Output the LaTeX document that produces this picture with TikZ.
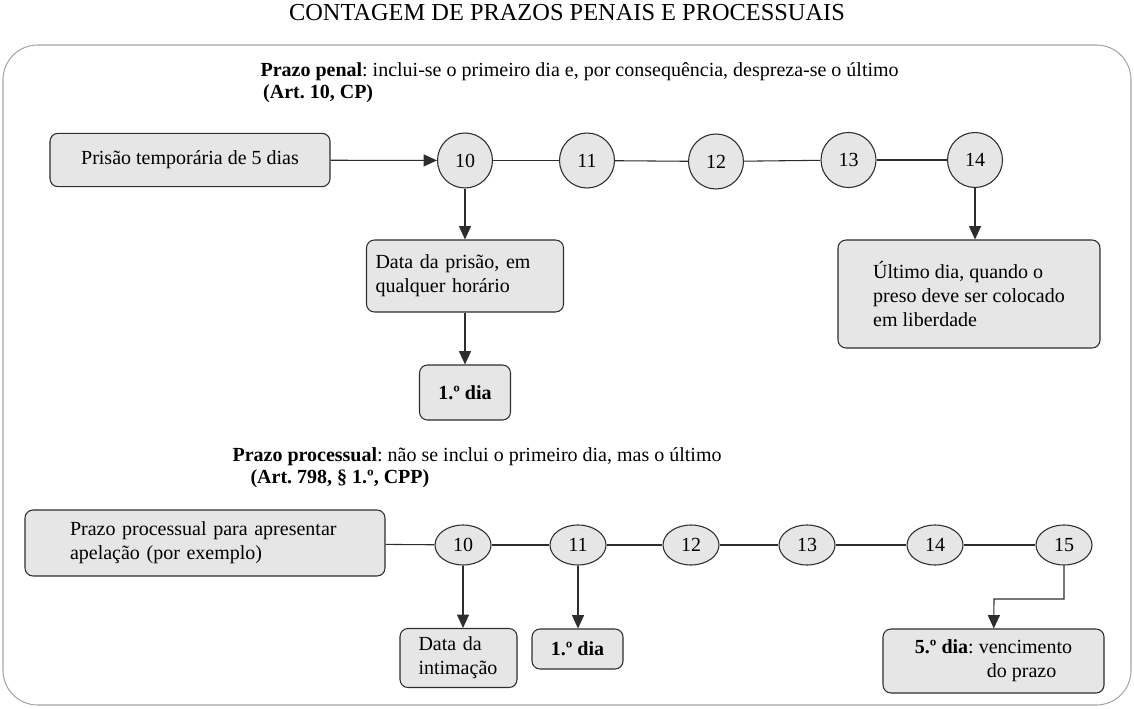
\documentclass[tikz,border=0pt]{standalone}
\usepackage{fontspec}
\setmainfont{Liberation Serif}
\usetikzlibrary{arrows.meta,shapes.geometric}
\definecolor{f}{RGB}{230,230,230}
\definecolor{l}{RGB}{45,45,45}
\definecolor{m}{RGB}{165,165,165}
\frenchspacing

\begin{document}
\begin{tikzpicture}[>={Triangle[length=10pt,width=9pt]},x=.75pt,y=-.75pt,line width=.8pt,
every node/.style={font=\fontsize{15}{18}\selectfont},
cx/.style={draw=l,fill=f,rounded corners=6pt},
ci/.style={circle,draw=l,fill=f,minimum size=41.25pt,inner sep=0pt},
el/.style={ellipse,draw=l,fill=f,minimum width=42pt,minimum height=30pt,inner sep=0pt},
tx/.style={anchor=north west,inner sep=0pt,align=left,font=\fontsize{15}{16.5}\selectfont}]
\useasboundingbox (0,0) rectangle (1134,709);
\node (tit) at (567,13) {\fontsize{18.3}{20}\selectfont CONTAGEM DE PRAZOS PENAIS E PROCESSUAIS};
\draw[m] (3,45) [rounded corners=26pt] rectangle (1131,705);
% prazo penal
\node[tx] (hp) at (260,62) {\textbf{Prazo penal}: inclui-se o primeiro dia e, por consequência, despreza-se o último\\\hspace*{2pt}\textbf{(Art. 10, CP)}};
\node[cx,minimum width=210pt,minimum height=40pt] (pt) at (190,160) {Prisão temporária de 5 dias};
\node[ci] (c10) at (465,160.5) {10};\node[ci] (c11) at (587,160.5) {11};\node[ci] (c12) at (716,161.5) {12};
\node[ci] (c13) at (848.5,160) {13};\node[ci] (c14) at (975,160) {14};
\node[cx,minimum height=54pt,text width=134.25pt,inner xsep=6.75pt,align=left] (dp) at (465,276) {Data da prisão, em\\qualquer horário};
\node[cx,minimum width=68.25pt,minimum height=41.25pt] (d1) at (465,392.5) {\textbf{1.º dia}};
\node[cx,minimum width=196.5pt,minimum height=81pt,align=left] (ud) at (969,294) {Último dia, quando o\\preso deve ser colocado\\em liberdade};
\draw[->,l] (pt)--(c10);\draw[l] (c10)--(c11);\draw[l] (c11)--(c12);\draw[l] (c12)--(c13);\draw[l] (c13)--(c14);
\draw[->,l] (c10)--(dp);\draw[->,l] (dp)--(d1);\draw[->,l] (c14)--(c14|-ud.north);
% prazo processual
\node[tx] (hq) at (232,447) {\textbf{Prazo processual}: não se inclui o primeiro dia, mas o último\\\hspace*{13.5pt}\textbf{(Art. 798, § 1.º, CPP)}};
\node[cx,minimum height=49.5pt,text width=202.5pt,inner xsep=33.75pt,align=left] (pp) at (205,543) {Prazo processual para apresentar\\apelação (por exemplo)};
\node[el] (e10) at (463,545) {10};\node[el] (e11) at (578,545) {11};\node[el] (e12) at (691,545) {12};
\node[el] (e13) at (807,545) {13};\node[el] (e14) at (935,545) {14};\node[el] (e15) at (1064,545) {15};
\node[cx,minimum height=44.25pt,text width=60pt,inner xsep=13.875pt,align=left] (di) at (458.5,658) {Data da\\intimação};
\node[cx,minimum width=68.25pt,minimum height=30pt] (d2) at (577.5,649) {\textbf{1.º dia}};
\node[cx,minimum width=165.75pt,minimum height=48pt,align=left] (vc) at (993.5,661) {\textbf{5.º dia}: vencimento\\\hspace*{54pt}do prazo};
\draw[l] (pp)--(e10);\draw[l] (e10)--(e11);\draw[l] (e11)--(e12);\draw[l] (e12)--(e13);\draw[l] (e13)--(e14);\draw[l] (e14)--(e15);
\draw[->,l] (e10)--(e10|-di.north);\draw[->,l] (e11)--(e11|-d2.north);
\coordinate (k) at (994,599);\draw[->,l] (e15)|-(k)--(vc);
\end{tikzpicture}
\end{document}
